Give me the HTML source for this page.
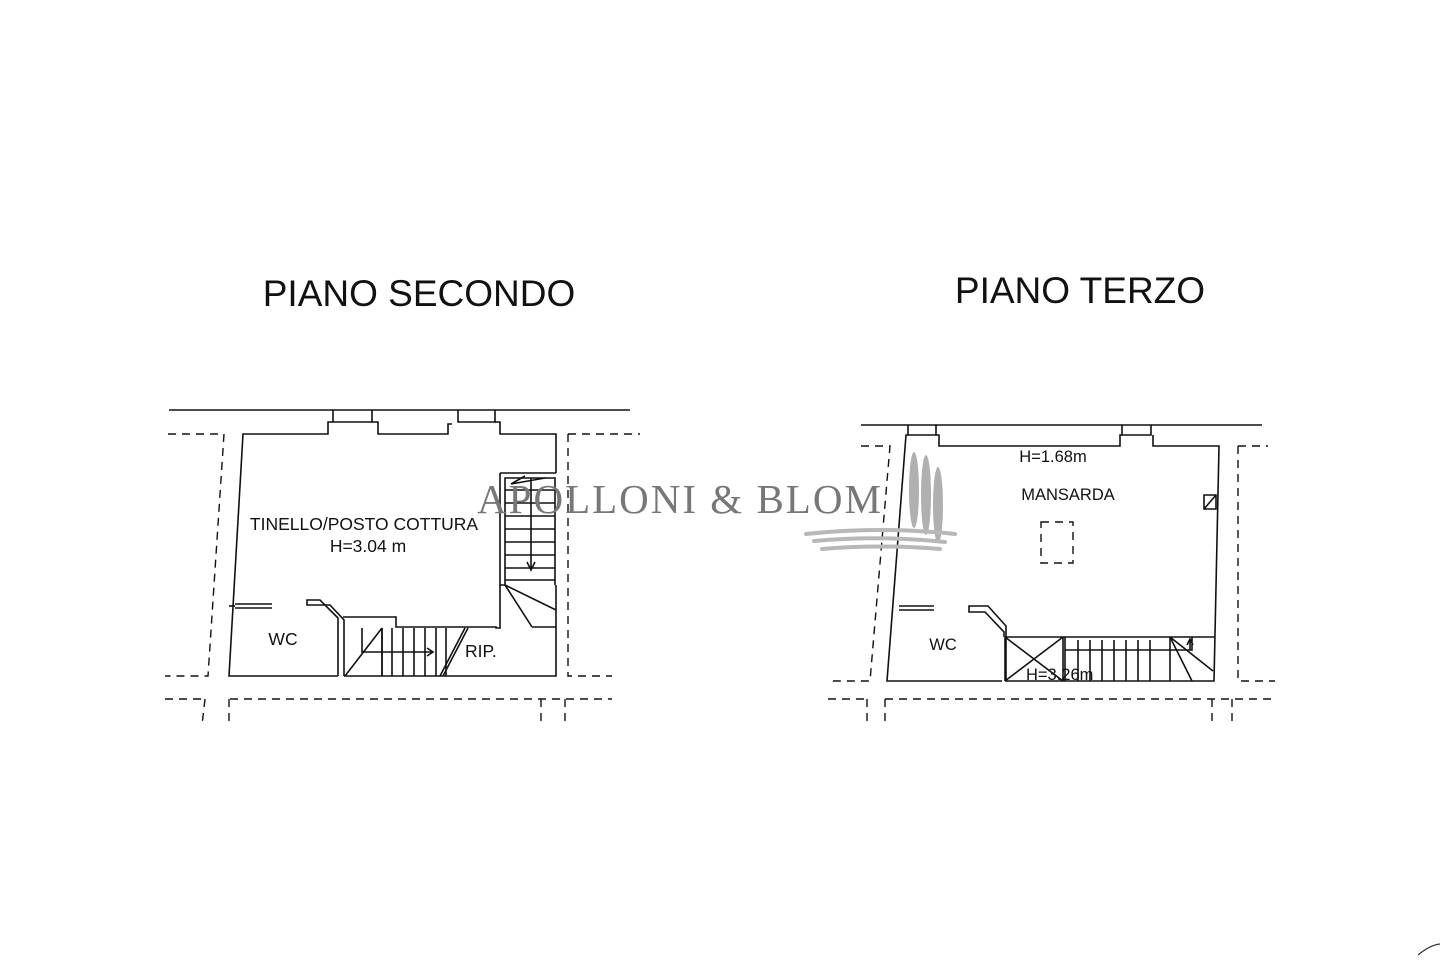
<!DOCTYPE html>
<html><head><meta charset="utf-8"><style>
html,body{margin:0;padding:0;background:#fff;}
svg{display:block;}
</style></head><body>
<svg width="1440" height="960" viewBox="0 0 1440 960" xmlns="http://www.w3.org/2000/svg">
<rect width="1440" height="960" fill="#fff"/>
<g font-family="Liberation Sans, Arial, sans-serif" fill="#111">
<text x="419" y="306" font-size="37" text-anchor="middle">PIANO SECONDO</text>
<text x="1080" y="303" font-size="37" text-anchor="middle">PIANO TERZO</text>
</g>

<!-- LEFT PLAN -->
<g stroke="#111" stroke-width="1.6" fill="none">
<line x1="169" y1="410" x2="630" y2="410"/>
<path d="M333,410 V422 H372 V410 M458,410 V422 H495 V410"/>
<path d="M333,422 H328 V434 H243 L229,676 H338 M344,676 H556 V627"/>
<path d="M372,422 H378 V434 H448 V424 H452 M495,422 H500 V434 H556 V473"/>
<path d="M500,473 H556 M500,473 V585 H505 V478 H555 V585"/>
<path d="M505,490 H555 M505,503 H555 M505,516 H555 M505,529 H555 M505,542 H555 M505,555 H555 M505,568 H555 M505,580 H555"/>
<path d="M531,478 V570 M527,562 L531,570 L535,562"/>
<path d="M511,484 L545,478 M511,484 L525,476"/>
<path d="M505,585 L556,610 M505,585 L532,627 M532,627 H556 M556,585 V627"/>
<path d="M500,585 V628 H496 V627 H396 V617 H343"/>
<path d="M382,628 V676 M382,628 L345,676"/>
<path d="M382,628 V676 M392,628 V676 M403,628 V676 M414,628 V676 M425,628 V676 M436,628 V676 M446,628 V676"/>
<path d="M362,628 V652 H433 M427,648 L433,652 L427,656"/>
<path d="M465,628 L440,676 M468,628 L443,676"/>
<path d="M344,676 V620 L330,605 H307 V600 H320 L338,618 V676"/>
<path d="M235,604 H272 M235,608 H272"/>
<line x1="229" y1="606" x2="235" y2="606"/>
</g>
<g stroke="#111" stroke-width="1.4" fill="none" stroke-dasharray="8,6">
<path d="M168,434 H224 L208,676 H165"/>
<path d="M568,434 H640 M568,434 V676 H612"/>
<path d="M165,699 H205 M230,699 H612 M229,699 V725 M205,699 L202,725 M541,699 V725 M565,699 V725"/>
</g>
<g font-family="Liberation Sans, Arial, sans-serif" fill="#111" font-size="17.5">
<text x="364" y="530" text-anchor="middle">TINELLO/POSTO COTTURA</text>
<text x="368" y="552" text-anchor="middle">H=3.04 m</text>
<text x="283" y="645" text-anchor="middle">WC</text>
<text x="465" y="657">RIP.</text>
</g>

<!-- RIGHT PLAN -->
<g stroke="#111" stroke-width="1.6" fill="none">
<line x1="861" y1="425" x2="1262" y2="425"/>
<path d="M908,425 V435 H936 V425 M1122,425 V435 H1151 V425"/>
<path d="M908,435 H906 L887,681 H1002 M1005,681 H1214 L1219,446 H1153 V435"/>
<path d="M936,435 H939 V446 H1120 V435 H1122"/>
<path d="M1005,637 H1215 M1005,637 V681 M1063,637 V681 M1065,637 V681 M1005,637 L1063,681 M1063,637 L1005,681"/>
<path d="M1078,640 V681 M1090,640 V681 M1102,640 V681 M1114,640 V681 M1126,640 V681 M1138,640 V681 M1150,640 V681 M1170,637 V681"/>
<path d="M1065,650 H1192 V637 M1190,650 V640 M1187,645 L1190,639 L1193,645"/>
<path d="M1170,637 L1213,671 M1170,637 L1192,681"/>
<path d="M1004,637 V632 L985,612 H969 V606 H988 L1006,626 V681"/>
<path d="M899,606 H934 M899,610 H934"/>
<path d="M1204,495 H1216 V509 H1204 Z M1204,509 L1216,495"/>
</g>
<g stroke="#111" stroke-width="1.4" fill="none" stroke-dasharray="8,6">
<path d="M861,446 H890 L870,681 H828"/>
<path d="M1238,446 H1268 M1238,446 V681 H1275"/>
<path d="M828,699 H865 M885,699 H1275 M885,699 V725 M867,699 V725 M1212,699 V725 M1232,699 V725"/>
<path d="M1041,522 H1073 V563 H1041 Z"/>
</g>
<g font-family="Liberation Sans, Arial, sans-serif" fill="#111" font-size="16.5">
<text x="1053" y="462" text-anchor="middle">H=1.68m</text>
<text x="1068" y="500" text-anchor="middle">MANSARDA</text>
<text x="943" y="650" text-anchor="middle">WC</text>
<text x="1026" y="680">H=3.26m</text>
</g>

<!-- watermark -->
<g>
<text x="680" y="513" font-family="Liberation Serif, serif" font-size="41" fill="#777" text-anchor="middle" letter-spacing="2">APOLLONI &amp; BLOM</text>
<g fill="#b0b0b0">
<ellipse cx="914" cy="490" rx="5" ry="38"/>
<ellipse cx="926" cy="495" rx="5" ry="40"/>
<ellipse cx="938" cy="505" rx="5" ry="38"/>
</g>
<g stroke="#b8b8b8" stroke-width="4" fill="none" stroke-linecap="round">
<path d="M806,534 Q880,526 955,534"/>
<path d="M814,541 Q880,535 945,542"/>
<path d="M822,549 Q880,544 940,549"/>
</g>
</g>
<path d="M1418,955 Q1430,945 1440,944" stroke="#333" stroke-width="1.2" fill="none"/>
</svg>
</body></html>
